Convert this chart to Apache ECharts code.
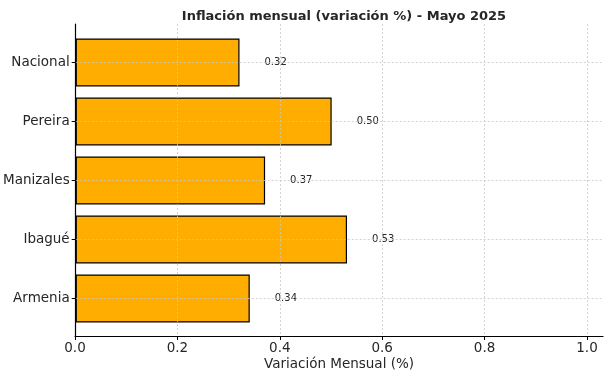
<!DOCTYPE html>
<html>
<head>
<meta charset="utf-8">
<script src="https://cdn.jsdelivr.net/npm/echarts@6/dist/echarts.min.js"></script>
<style>html,body{margin:0;padding:0;background:#fff}#c{width:610px;height:378px}</style>
</head>
<body>
<div id="c"></div>
<script>
const categories = ['Armenia', 'Ibagué', 'Manizales', 'Pereira', 'Nacional'];
const values = [0.34, 0.53, 0.37, 0.50, 0.32];
const xTicks = [0, 0.2, 0.4, 0.6, 0.8, 1.0];
const titleText = 'Inflación mensual (variación %) - Mayo 2025';
const xName = 'Variación Mensual (%)';

const FONT = 'DejaVu Sans';
const TXT = '#262626';
const gridLine = { show: true, lineStyle: { color: '#c8c8c8', type: [2, 2], width: 0.8 } };

const chart = echarts.init(document.getElementById('c'), null, { renderer: 'canvas' });
chart.setOption({
  animation: false,
  backgroundColor: '#fff',
  textStyle: { fontFamily: FONT },
  title: {
    text: titleText, left: 339, top: 5, textAlign: 'center',
    textStyle: { fontFamily: FONT, fontSize: 13, fontWeight: 'bold', color: TXT }
  },
  grid: [
    { left: 75, right: 7, top: 24, bottom: 42 },
    { left: 75, right: 23, top: 24, bottom: 42 },
    { left: 75, right: 7, top: 62.5, bottom: 79.5 }
  ],
  xAxis: [
    { gridIndex: 0, type: 'value', min: 0, max: 1.03, z: 6,
      axisLine: { show: true, onZero: false, lineStyle: { color: '#000', width: 1.2 } },
      axisTick: { show: false }, axisLabel: { show: false }, splitLine: { show: false },
      name: xName, nameLocation: 'middle', nameGap: 21,
      nameTextStyle: { fontFamily: FONT, fontSize: 13.5, color: TXT } },
    { gridIndex: 1, type: 'value', min: xTicks[0], max: xTicks[xTicks.length - 1], interval: 0.2, z: 5,
      axisLine: { show: false, onZero: false },
      axisTick: { show: true, length: 4, lineStyle: { color: '#000', width: 1 } },
      axisLabel: { show: true, margin: 5, fontSize: 13.5, color: TXT, fontFamily: FONT,
        formatter: v => v.toFixed(1) },
      splitLine: gridLine },
    { gridIndex: 2, type: 'value', min: 0, max: 1.03, show: false }
  ],
  yAxis: [
    { gridIndex: 0, type: 'value', z: 6,
      axisLine: { show: true, onZero: false, lineStyle: { color: '#000', width: 1.2 } },
      axisTick: { show: false }, axisLabel: { show: false }, splitLine: { show: false } },
    { gridIndex: 1, type: 'value', show: false },
    { gridIndex: 2, type: 'category', data: categories, boundaryGap: false, z: 5,
      axisLine: { show: false, onZero: false },
      axisTick: { show: true, length: 4, lineStyle: { color: '#000', width: 1 } },
      axisLabel: { show: true, margin: 6, fontSize: 13.5, color: TXT, fontFamily: FONT },
      splitLine: gridLine }
  ],
  series: [{
    type: 'bar', xAxisIndex: 2, yAxisIndex: 2, data: values, barWidth: 48, clip: false, z: 2,
    itemStyle: { color: '#FFAD00', borderColor: '#000', borderWidth: 1.2 },
    label: { show: true, position: 'right', distance: 25, fontSize: 10, color: TXT, fontFamily: FONT,
      formatter: p => p.value.toFixed(2) }
  }]
});
</script>
</body>
</html>
